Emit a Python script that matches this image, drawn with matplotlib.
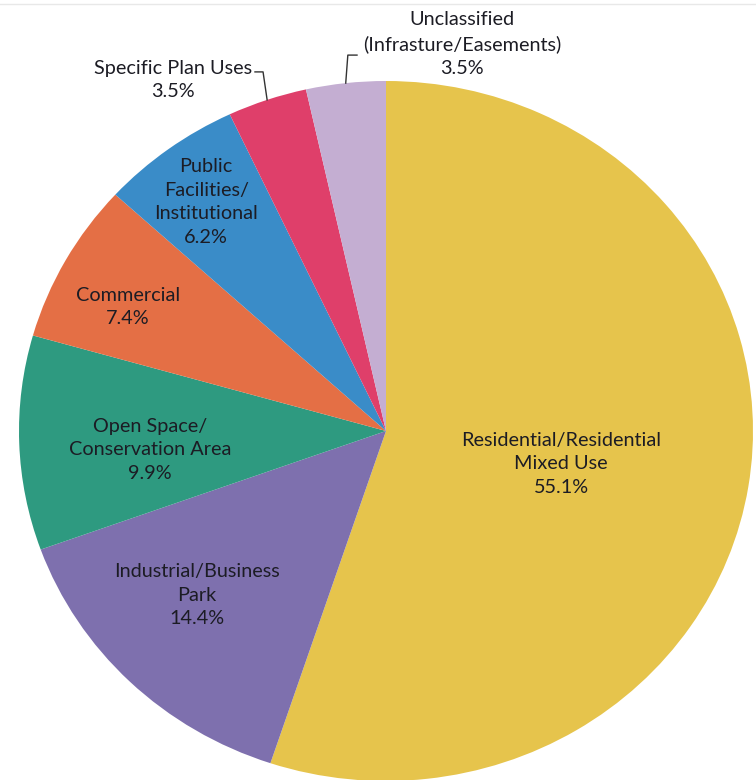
import matplotlib
matplotlib.use("Agg")
import matplotlib.pyplot as plt
from matplotlib.lines import Line2D
import numpy as np

# Land use shares (clockwise from 12 o'clock)
categories = [
    "Residential/Residential\nMixed Use",
    "Industrial/Business\nPark",
    "Open Space/\nConservation Area",
    "Commercial",
    "Public\nFacilities/\nInstitutional",
    "Specific Plan Uses",
    "Unclassified\n(Infrasture/Easements)",
]
shares = [55.1, 14.4, 9.9, 7.4, 6.2, 3.5, 3.5]
colors = ["#E6C44C", "#7E70AE", "#2E9A80", "#E46F45", "#3A8CC8", "#DF3F6A", "#C4AED2"]

# label placement in axes data units (layout only)
inside_pos = [(0.477, -0.094), (-0.515, -0.469), (-0.643, -0.054),
              (-0.703, 0.354), (-0.490, 0.654)]
outside_pos = {5: (-0.580, 1.003), 6: (0.207, 1.106)}
leader_knee = {5: [(-0.357, 1.026), (-0.335, 1.026)],
               6: [(-0.079, 1.074), (-0.104, 1.074)]}

plt.rcParams["font.family"] = ["Lato", "DejaVu Sans"]
text_color = "#1c1c24"
fs = 14.3
ls = 1.48

fig = plt.figure(figsize=(7.56, 7.8), dpi=100)
ax = fig.add_axes([19 / 756, -1 / 780, 734 / 756, 700 / 780])

wedges, _ = ax.pie(shares, colors=colors, startangle=90, counterclock=False,
                   wedgeprops=dict(linewidth=0))
ax.set_aspect("auto")
ax.set_xlim(-1, 1)
ax.set_ylim(-1, 1)
ax.axis("off")

for i, (name, val) in enumerate(zip(categories, shares)):
    label = f"{name}\n{val}%"
    if i in outside_pos:
        x, y = outside_pos[i]
        ax.text(x, y, label, ha="center", va="center", fontsize=fs,
                color=text_color, linespacing=ls, clip_on=False)
        w = wedges[i]
        mid = np.deg2rad((w.theta1 + w.theta2) / 2)
        pts = leader_knee[i] + [(np.cos(mid), np.sin(mid))]
        xs, ys = zip(*pts)
        ax.add_line(Line2D(xs, ys, color="#333333", linewidth=1.0, clip_on=False))
    else:
        x, y = inside_pos[i]
        ax.text(x, y, label, ha="center", va="center", fontsize=fs,
                color=text_color, linespacing=ls)

fig.add_artist(Line2D([0, 1], [1 - 4 / 780, 1 - 4 / 780], color="#e8e8e8",
                      linewidth=1, transform=fig.transFigure))

fig.savefig("out.png", dpi=100)
